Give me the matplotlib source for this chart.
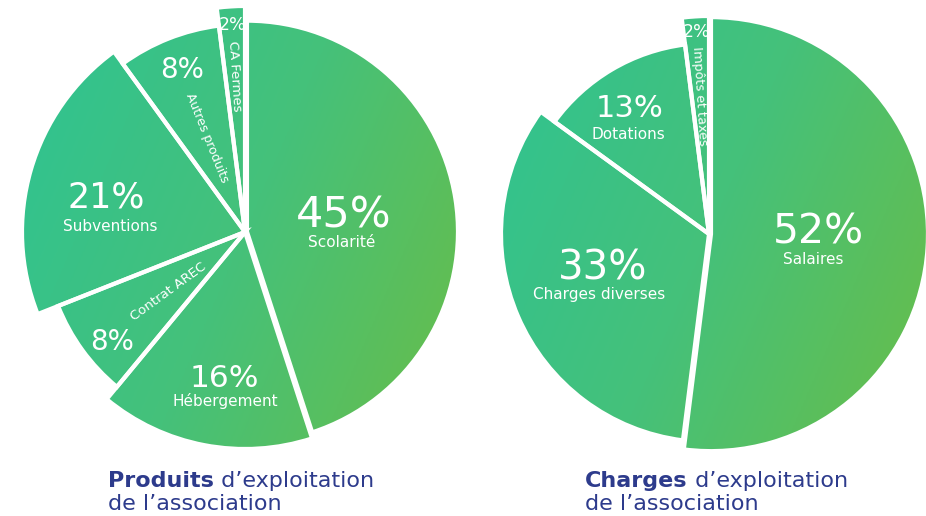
import numpy as np
import matplotlib.pyplot as plt
from matplotlib.colors import LinearSegmentedColormap

# ---------------------------------------------
# data
# ---------------------------------------------
produits_labels = ["Scolarité", "Hébergement", "Contrat AREC", "Subventions",
                   "Autres produits", "CA Fermes"]
produits_values = [45, 16, 8, 21, 8, 2]

charges_labels = ["Salaires", "Charges diverses", "Dotations", "Impôts et taxes"]
charges_values = [52, 33, 13, 2]

# ---------------------------------------------
# layout (pixels, y measured from the top)
# ---------------------------------------------
W, H = 926, 516
produits_center = (245, 232)
produits_radii = [211, 217, 201, 223, 208, 226]
produits_explode = [2, 0, 0, 0, 0, 0]

charges_center = (709, 234)
charges_radii = [217, 208, 191, 218]
charges_explode = [2, 0, 0, 0]

plt.rcParams['font.family'] = ['DejaVu Sans']

green = LinearSegmentedColormap.from_list("grn", ["#2DC394", "#45C17A", "#6CBD44"])
title_color = "#2D3B8C"


def Y(y):
    return H - y


fig = plt.figure(figsize=(W / 100, H / 100), dpi=100)
ax = fig.add_axes([0, 0, 1, 1])


def draw_pie(values, center, radii, explode):
    cx, cy = center
    wedges, _ = ax.pie(values, startangle=90, counterclock=False,
                       center=(cx, Y(cy)), radius=max(radii), explode=explode,
                       wedgeprops=dict(edgecolor="white", linewidth=3))
    # gradient fill, top-left teal to bottom-right lime
    R = 235
    n = 300
    xs = np.linspace(0, 1, n)
    xx, yy = np.meshgrid(xs, xs)
    t = 0.7 * xx + 0.3 * yy
    for w, r in zip(wedges, radii):
        w.set_radius(r)
        w.set_facecolor("none")
        im = ax.imshow(t, cmap=green, vmin=0, vmax=1, origin="upper",
                       extent=(cx - R, cx + R, Y(cy + R), Y(cy - R)),
                       interpolation="bilinear", zorder=0)
        im.set_clip_path(w)
    return wedges


draw_pie(produits_values, produits_center, produits_radii, produits_explode)
draw_pie(charges_values, charges_center, charges_radii, charges_explode)


def pct(x, y, s, size):
    ax.text(x, Y(y), s, color="white", fontsize=size, ha="center", va="baseline")


def name(x, y, s, size=11, rot=0):
    if rot:
        ax.text(x, Y(y), s, color="white", fontsize=size, ha="center", va="center",
                rotation=rot, rotation_mode="anchor")
    else:
        ax.text(x, Y(y), s, color="white", fontsize=size, ha="center", va="baseline")


# produits labels
pct(344, 227, f"{produits_values[0]}%", 31)
name(342, 247, produits_labels[0])
pct(224, 387, f"{produits_values[1]}%", 22.5)
name(225, 406, produits_labels[1])
pct(112, 350, f"{produits_values[2]}%", 20)
name(168, 292, produits_labels[2], 9.5, 36)
pct(106, 208, f"{produits_values[3]}%", 25)
name(110, 231, produits_labels[3])
pct(182, 78, f"{produits_values[4]}%", 20)
name(207, 138, produits_labels[4], 9, -68)
pct(233, 30, f"{produits_values[5]}%", 12.5)
name(235, 76, produits_labels[5], 9.5, -86.4)

# charges labels
pct(818, 243, f"{charges_values[0]}%", 29.5)
name(813, 264, charges_labels[0])
pct(603, 280, f"{charges_values[1]}%", 29)
name(599, 299, charges_labels[1])
pct(630, 117, f"{charges_values[2]}%", 22)
name(628, 139, charges_labels[2])
pct(697, 37, f"{charges_values[3]}%", 12.5)
name(700, 96, charges_labels[3], 9.2, -86.4)


# titles
def title(x, bold, rest):
    t1 = ax.text(x, Y(487), bold, color=title_color, fontsize=16,
                 fontweight="bold", ha="left", va="baseline")
    ax.annotate(rest, xy=(1, 0), xycoords=t1, color=title_color, fontsize=16,
                ha="left", va="bottom")
    ax.text(x, Y(510), "de l’association", color=title_color, fontsize=16,
            ha="left", va="baseline")


title(108, "Produits", " d’exploitation")
title(585, "Charges", " d’exploitation")

ax.set_xlim(0, W)
ax.set_ylim(0, H)
ax.set_aspect("equal")
ax.axis("off")

plt.savefig("out.png", dpi=100)
